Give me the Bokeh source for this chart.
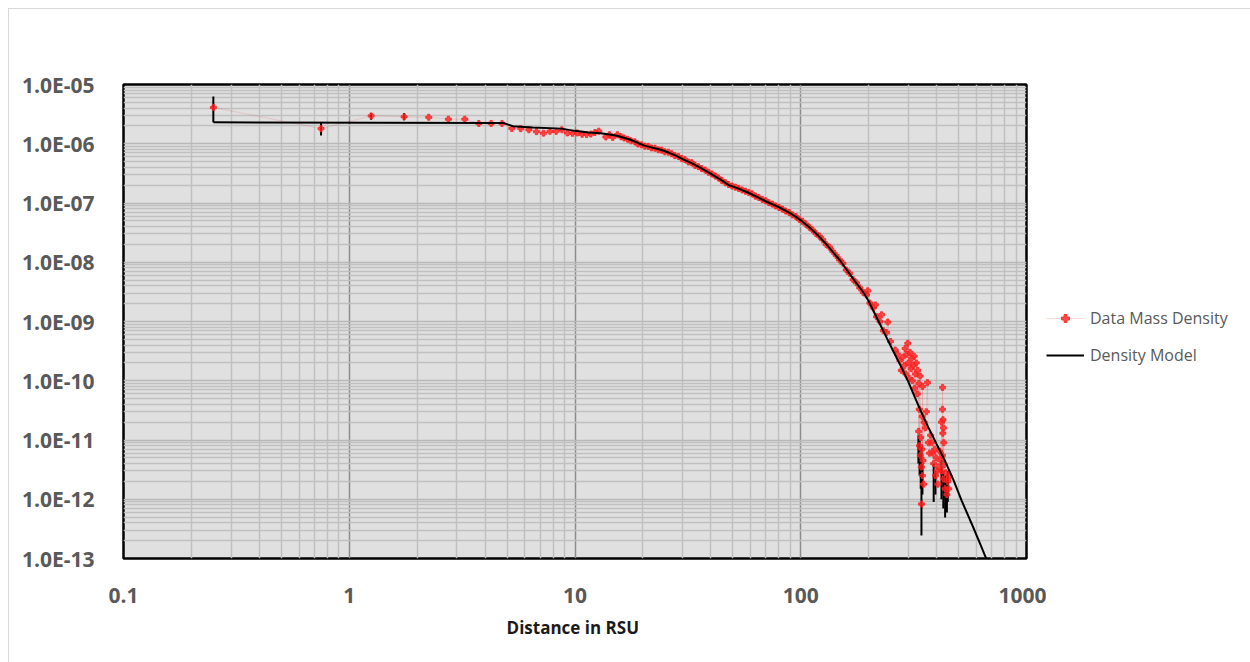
from bokeh.plotting import figure
from bokeh.layouts import row
from bokeh.models import (FixedTicker, CustomJSTickFormatter, Legend, LegendItem,
                          Range1d)
from bokeh.embed import file_html
from bokeh.resources import INLINE

# ---------------- data ----------------
series_names = ["Data Mass Density", "Density Model"]
x_axis_title = "Distance  in RSU"

x_ticks = [0.1, 1, 10, 100, 1000]
y_ticks = [1e-13, 1e-12, 1e-11, 1e-10, 1e-9, 1e-8, 1e-7, 1e-6, 1e-5]

data_x = [
    0.25, 0.75, 1.25, 1.75, 2.25, 2.75, 3.25, 3.75, 4.25, 4.75, 5.25, 5.75,
    6.25, 6.75, 7.25, 7.75, 8.25, 8.75, 9.25, 9.75, 10.25, 10.75, 11.25,
    11.75, 12.25, 12.75, 13.7, 14.2, 14.7, 15.4, 16.0, 16.5, 17.1, 17.7,
    18.4, 19.0, 19.7, 20.4, 21.1, 21.8, 22.6, 23.4, 24.2, 25.0, 25.9, 26.8,
    27.7, 28.7, 29.7, 30.7, 31.8, 32.9, 34.0, 35.2, 36.4, 37.7, 39.0, 40.4,
    41.8, 43.2, 44.7, 46.3, 47.9, 49.6, 51.3, 53.1, 55.0, 56.9, 58.9, 60.9,
    63.0, 65.2, 67.5, 69.9, 72.3, 74.8, 77.4, 80.1, 82.9, 85.8, 88.8, 91.9,
    95.1, 98.4, 101.8, 105.4, 109.1, 112.9, 116.8, 120.9, 125.1, 129.5,
    134.0, 138.7, 143.5, 148.5, 153.7, 159.1, 164.7, 170.4, 176.4, 182.5,
    188.9, 195.5, 198.0, 202.4, 209.5, 214.0, 216.8, 224.4, 228.0, 232.2,
    240.0, 243.0, 250.0, 262.0, 268.0, 275.0, 279.0, 283.0, 287.0, 290.0,
    292.0, 295.0, 298.0, 300.0, 302.0, 305.0, 308.0, 310.0, 312.0, 315.0,
    318.0, 320.0, 322.0, 325.0, 328.0, 330.0, 333.0, 334.0, 335.0, 336.0,
    338.0, 338.5, 340.0, 342.0, 342.5, 344.0, 345.0, 346.0, 346.5, 348.0,
    350.0, 352.0, 356.0, 360.0, 364.0, 368.0, 372.0, 376.0, 380.0, 384.0,
    388.0, 392.0, 395.0, 398.0, 402.0, 405.0, 408.0, 412.0, 416.0, 420.0,
    420.5, 424.0, 424.5, 425.0, 426.0, 426.5, 428.0, 428.5, 430.0, 432.0,
    436.0, 440.0, 444.0, 448.0, 452.0, 456.0,
]
data_y = [
    4.1e-6, 1.8e-6, 2.95e-6, 2.85e-6, 2.8e-6, 2.6e-6, 2.6e-6, 2.2e-6, 2.2e-6,
    2.2e-6, 1.81e-6, 1.8e-6, 1.72e-6, 1.6e-6, 1.51e-6, 1.62e-6, 1.62e-6,
    1.72e-6, 1.52e-6, 1.5e-6, 1.52e-6, 1.44e-6, 1.43e-6, 1.46e-6, 1.55e-6,
    1.63e-6, 1.30e-6, 1.42e-6, 1.28e-6, 1.42e-6, 1.31e-6, 1.25e-6, 1.19e-6,
    1.12e-6, 1.08e-6, 9.9e-7, 9.6e-7, 9.1e-7, 9.0e-7, 8.5e-7, 8.4e-7, 7.9e-7,
    7.8e-7, 7.3e-7, 7.2e-7, 6.8e-7, 6.3e-7, 6.1e-7, 5.6e-7, 5.4e-7, 4.9e-7,
    4.8e-7, 4.3e-7, 4.1e-7, 3.8e-7, 3.6e-7, 3.3e-7, 3.1e-7, 2.85e-7, 2.65e-7,
    2.4e-7, 2.2e-7, 2.05e-7, 1.93e-7, 1.85e-7, 1.76e-7, 1.66e-7, 1.58e-7,
    1.5e-7, 1.43e-7, 1.3e-7, 1.24e-7, 1.15e-7, 1.09e-7, 1.01e-7, 9.6e-8,
    8.9e-8, 8.4e-8, 7.9e-8, 7.3e-8, 6.9e-8, 6.3e-8, 5.9e-8, 5.3e-8, 4.9e-8,
    4.4e-8, 3.9e-8, 3.5e-8, 3.05e-8, 2.75e-8, 2.4e-8, 2.0e-8, 1.8e-8,
    1.52e-8, 1.3e-8, 1.1e-8, 9.6e-9, 7.4e-9, 6.5e-9, 5.1e-9, 4.5e-9, 3.7e-9,
    3.1e-9, 2.8e-9, 3.3e-9, 2.05e-9, 1.7e-9, 1.9e-9, 1.2e-9, 1.0e-9, 1.3e-9,
    7.0e-10, 6.5e-10, 9.8e-10, 4.6e-10, 3.3e-10, 2.8e-10, 2.2e-10, 1.5e-10,
    2.5e-10, 1.8e-10, 3.5e-10, 1.3e-10, 2.8e-10, 4.3e-10, 2.0e-10, 1.1e-10,
    3.0e-10, 1.6e-10, 2.4e-10, 1.0e-10, 1.8e-10, 2.6e-10, 7.5e-11, 1.3e-10,
    2.0e-10, 6.0e-11, 1.5e-10, 1.4e-11, 9.0e-11, 3.3e-11, 8.0e-12, 1.2e-10,
    5.5e-12, 1.1e-11, 3.5e-12, 8.3e-13, 7.0e-12, 2.5e-11, 2.5e-12, 8.0e-11,
    4.5e-12, 1.8e-12, 2.0e-11, 1.6e-11, 3.0e-11, 9.3e-11, 9.0e-12, 6.0e-12,
    1.2e-11, 9.0e-12, 6.0e-12, 4.0e-12, 7.0e-12, 2.5e-12, 5.0e-12, 3.0e-12,
    1.8e-12, 3.5e-12, 6.5e-12, 4.5e-12, 3.0e-12, 2.0e-11, 5.5e-12, 3.3e-11,
    7.7e-11, 1.3e-11, 2.2e-11, 2.2e-12, 1.6e-11, 9.0e-12, 3.8e-12, 1.5e-12,
    2.8e-12, 1.2e-12, 2.0e-12, 1.5e-12, 2.4e-12,
]

model_x = [
    0.25, 4.8, 5.3, 6.5, 8.7, 10.0, 11.5, 13.0, 15.2, 17.5, 20.3, 22, 24, 26,
    28, 30, 33, 36, 40, 44, 48, 52, 58, 64, 71, 80, 88, 95, 100, 110, 119,
    130, 141, 150, 160, 173, 185, 192, 200, 210, 220, 235, 250, 265, 279,
    300, 320, 340, 367, 400, 435, 475, 516, 580, 630, 700,
]
model_y = [
    2.3e-6, 2.25e-6, 1.98e-6, 1.88e-6, 1.8e-6, 1.65e-6, 1.55e-6, 1.5e-6,
    1.38e-6, 1.18e-6, 9.3e-7, 8.6e-7, 7.9e-7, 7.1e-7, 6.3e-7, 5.5e-7,
    4.65e-7, 3.9e-7, 3.1e-7, 2.5e-7, 2.0e-7, 1.8e-7, 1.52e-7, 1.27e-7,
    1.04e-7, 8.5e-8, 7.0e-8, 5.9e-8, 5.1e-8, 3.8e-8, 2.85e-8, 2.0e-8,
    1.39e-8, 1.05e-8, 7.4e-9, 4.9e-9, 3.5e-9, 2.85e-9, 2.2e-9, 1.5e-9,
    1.05e-9, 6.3e-10, 3.9e-10, 2.5e-10, 1.7e-10, 9.5e-11, 5.3e-11, 3.1e-11,
    1.65e-11, 8.5e-12, 4.5e-12, 2.1e-12, 9.5e-13, 3.4e-13, 1.6e-13, 6.0e-14,
]

# black error bars of the data
err_x = [0.25, 0.75, 1.25, 1.75, 332, 336, 340, 342.5, 346, 388, 395, 420,
         428, 436, 444, 448]
err_lo = [2.3e-6, 1.38e-6, 2.55e-6, 2.5e-6, 4e-12, 2.5e-12, 1.5e-12,
          2.45e-13, 1.2e-12, 9e-13, 1.2e-12, 1.0e-12, 7e-13, 4.9e-13, 6e-13,
          9e-13]
err_hi = [6.3e-6, 2.3e-6, 3.3e-6, 3.3e-6, 1.2e-11, 1.0e-11, 6e-12, 7.6e-12,
          4e-12, 4e-12, 3e-12, 4.6e-12, 3e-12, 2.5e-12, 2e-12, 3e-12]

# ---------------- main plot ----------------
x_minor = [k * 10.0 ** n for n in range(-1, 3) for k in range(2, 10)]
y_minor = [k * 10.0 ** n for n in range(-13, -5) for k in range(2, 10)]

p = figure(width=1038, height=654, x_axis_type="log", y_axis_type="log",
           x_range=Range1d(0.1, 1000), y_range=Range1d(1e-13, 1e-5),
           output_backend="svg", toolbar_location=None,
           min_border_left=115, min_border_right=20,
           min_border_top=76, min_border_bottom=104)

p.background_fill_color = "#e0e0e0"
p.border_fill_alpha = 0
p.outline_line_color = "black"
p.outline_line_width = 2.5

p.xaxis.ticker = FixedTicker(ticks=x_ticks, minor_ticks=x_minor)
p.yaxis.ticker = FixedTicker(ticks=y_ticks, minor_ticks=y_minor)

p.xaxis.formatter = CustomJSTickFormatter(
    code="return tick < 1 ? tick.toFixed(1) : tick.toFixed(0);")
p.yaxis.formatter = CustomJSTickFormatter(code="""
const e = Math.round(Math.log10(tick));
const s = String(Math.abs(e)).padStart(2, "0");
return "1.0E" + (e < 0 ? "-" : "+") + s;
""")

for ax in (p.xaxis, p.yaxis):
    ax.axis_line_color = None
    ax.major_tick_line_color = None
    ax.minor_tick_line_color = None
    ax.major_label_text_font = "Open Sans"
    ax.major_label_text_font_style = "bold"
    ax.major_label_text_color = "#595959"
    ax.major_label_standoff = 23

p.xaxis.major_label_text_font_size = "21px"
p.yaxis.major_label_text_font_size = "21px"

p.xaxis.axis_label = x_axis_title
p.xaxis.axis_label_text_font = "Open Sans"
p.xaxis.axis_label_text_font_style = "bold"
p.xaxis.axis_label_text_font_size = "17px"
p.xaxis.axis_label_text_color = "#1a1a1a"
p.xaxis.axis_label_standoff = 10

p.xgrid.grid_line_color = "#8c8c8c"
p.xgrid.grid_line_width = 1.5
p.xgrid.minor_grid_line_color = "#c0c0c0"
p.xgrid.minor_grid_line_width = 1.5
p.ygrid.grid_line_color = "#b8b8b8"
p.ygrid.grid_line_width = 1.5
p.ygrid.minor_grid_line_color = "#c0c0c0"
p.ygrid.minor_grid_line_width = 1.5

p.line(data_x, data_y, line_color="red", line_alpha=0.12, line_width=1)
p.segment(x0=err_x, y0=err_lo, x1=err_x, y1=err_hi, line_color="black",
          line_width=2)
p.scatter(data_x, data_y, marker="plus", size=6, fill_color="#ff2020",
          line_color="#ff2020", alpha=0.8)
p.line(model_x, model_y, line_color="black", line_width=2)

# ---------------- legend panel ----------------
# same series drawn again with ranges that keep them out of view: only the legend shows
q = figure(width=204, height=654, x_range=Range1d(-10, -9), y_range=Range1d(-10, -9),
           output_backend="svg", toolbar_location=None,
           x_axis_location=None, y_axis_location=None,
           min_border_left=0, min_border_right=0, min_border_top=0,
           min_border_bottom=0)
q.grid.visible = False
q.outline_line_color = None
q.background_fill_alpha = 0
q.border_fill_alpha = 0

lg_faint = q.line(data_x, data_y, line_color="red", line_alpha=0.15, line_width=1)
lg_pts = q.scatter(data_x, data_y, marker="plus", size=6, fill_color="#ff2020",
                   line_color="#ff2020", alpha=0.8)
lg_model = q.line(model_x, model_y, line_color="black", line_width=2)

legend = Legend(items=[LegendItem(label=series_names[0], renderers=[lg_faint, lg_pts]),
                       LegendItem(label=series_names[1], renderers=[lg_model])],
                location=(0, 192), orientation="vertical",
                glyph_width=38, glyph_height=20, spacing=15, label_standoff=6,
                padding=0, margin=0, border_line_color=None,
                background_fill_alpha=0, label_text_font="Open Sans",
                label_text_font_size="16px", label_text_color="#595959")
q.add_layout(legend)

layout = row(p, q, margin=(8, 0, 0, 8), spacing=0)
layout.styles = {"box-shadow": "inset 1px 1px 0 #d9d9d9"}

open("out.html", "w").write(file_html(layout, INLINE))
